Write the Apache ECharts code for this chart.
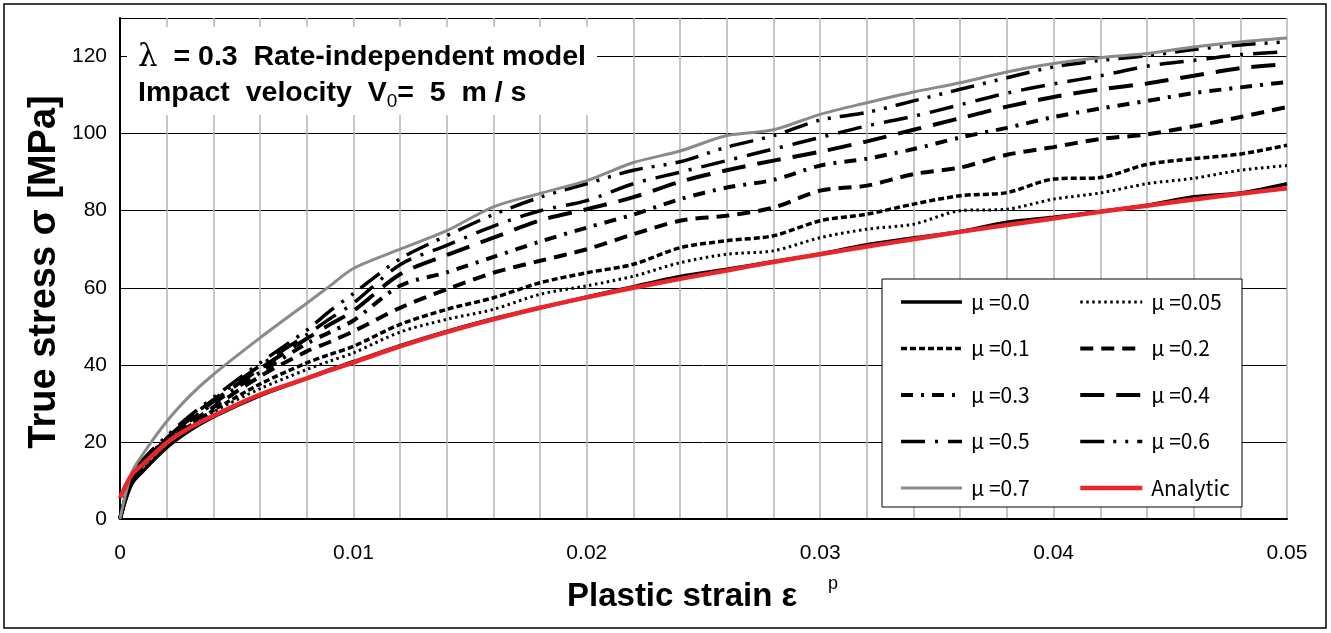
<!DOCTYPE html>
<html>
<head>
<meta charset="utf-8">
<script src="https://cdn.jsdelivr.net/npm/echarts@6/dist/echarts.min.js"></script>
<style>
  html, body { margin: 0; padding: 0; background: #fff; }
  #main { width: 1331px; height: 633px; }
</style>
</head>
<body>
<div id="main"></div>
<script>
// 横軸: 塑性ひずみ
var strain = [0, 0.0005, 0.001, 0.002, 0.003, 0.004, 0.006, 0.008, 0.009, 0.010,
  0.012, 0.014, 0.016, 0.018, 0.020, 0.022, 0.024, 0.026, 0.028, 0.030,
  0.032, 0.034, 0.036, 0.038, 0.040, 0.042, 0.044, 0.046, 0.048, 0.050];

// 真応力 [MPa]
var mu00 = [0, 9, 12.5, 18.5, 23, 26.5, 32, 36.5, 38.8, 40.8, 45, 48.7, 52, 54.8, 57.6, 60.3, 62.9, 64.8, 66.8, 68.8, 71.2, 72.9, 74.6, 77, 78.3, 79.8, 81.4, 83.6, 84.6, 87];
var mu005 = [0, 10, 13.5, 19.5, 24, 27.8, 33.8, 38.8, 41, 43.1, 48.5, 51.8, 54.4, 58.3, 60.5, 63, 66.5, 68.7, 69.6, 73, 75.2, 76.5, 80, 80.4, 83, 84.6, 87, 88.4, 90.5, 91.7];
var mu01 = [0, 10, 14, 19.8, 24.3, 28.2, 35, 40.5, 42.7, 44.8, 50.5, 54.4, 57.4, 61.3, 63.9, 66.1, 70.4, 72.2, 73.5, 77.4, 79.1, 81.7, 83.9, 84.7, 88.2, 88.6, 92, 93.5, 94.7, 97];
var mu02 = [0, 10, 14, 20, 24.8, 29, 37, 43.5, 46, 48.7, 54.8, 59.6, 63.9, 67, 70, 73.9, 77.4, 78.7, 80.8, 85.2, 86.5, 89.5, 91.2, 94.5, 96.5, 98.6, 99.8, 101.9, 104.3, 106.9];
var mu03 = [0, 10.5, 14.5, 20.5, 25.5, 30, 38, 45.5, 48.5, 51.5, 60.5, 64, 68, 72, 75.6, 79, 83, 86, 88, 91.7, 93.5, 96, 99, 101.5, 104.3, 106.5, 108.5, 110.5, 112, 113.4];
var mu04 = [0, 10.5, 14.5, 20.8, 26, 30.5, 39, 46.8, 50.5, 54, 63.5, 68.5, 73, 77.5, 80.4, 83.5, 87.5, 90.5, 93, 95.3, 98, 101, 104, 107, 109.5, 111.5, 113, 115, 117, 118];
var mu05 = [0, 11, 15, 21, 26.3, 31, 39.8, 47.8, 52, 56, 66, 71, 76, 80, 82.6, 87, 90, 93, 96, 99, 102, 104.5, 107.5, 110.5, 112.9, 115, 117.5, 119, 120.5, 121.2];
var mu06 = [0, 11, 15.5, 21.5, 26.8, 31.5, 40.5, 49, 54, 58.5, 67.5, 73.5, 79, 83.5, 87, 90.5, 92.7, 96.5, 99.5, 103.5, 105.5, 108.5, 111.5, 114.5, 117.3, 119, 120.2, 121.8, 123, 123.8];
var mu07 = [0, 12, 17, 25.3, 32, 37.5, 47, 56, 60.5, 65, 70, 74.8, 81, 84.5, 87.8, 92.5, 95.5, 99.5, 101, 105, 108, 110.8, 113.2, 116, 118.2, 119.7, 120.8, 122.5, 123.8, 124.8];
var analytic = [5.5, 11.5, 14.3, 19.8, 23.7, 26.8, 32.3, 36.5, 38.6, 40.6, 44.8, 48.5, 51.8, 54.8, 57.5, 60, 62.3, 64.5, 66.7, 68.7, 70.7, 72.6, 74.5, 76.3, 78, 79.7, 81.3, 82.9, 84.4, 85.8];

var stressTicks = [0, 20, 40, 60, 80, 100, 120];

function pairs(vals) {
  return strain.map(function (e, i) { return [e, vals[i]]; });
}

function curve(name, vals, color, width, dash) {
  return {
    name: name,
    type: 'line',
    data: pairs(vals),
    symbol: 'none',
    smooth: 0.3,
    lineStyle: { color: color, width: width, type: dash, cap: 'butt' },
    itemStyle: { color: color }
  };
}

var myChart = echarts.init(document.getElementById('main'));

var tickFont = "'Liberation Sans Narrow', 'Liberation Sans', sans-serif";

var legendCommon = {
  orient: 'vertical',
  top: 291.5,
  itemHeight: 14,
  itemGap: 25.5,
  padding: 0,
  selectedMode: false,
  z: 10,
  // 凡例は線だけ表示（記号を消す）
  itemStyle: { color: 'rgba(0,0,0,0)', borderWidth: 0, opacity: 0 },
  lineStyle: { width: 'inherit' },
  textStyle: { fontFamily: 'Noto Sans CJK JP', fontSize: 21, color: '#000', padding: [0, 0, 0, 4] }
};

var option = {
  animation: false,
  backgroundColor: '#fff',
  grid: { left: 120, right: 44, top: 18, bottom: 114 },
  legend: [
    Object.assign({}, legendCommon, {
      left: 899, itemWidth: 61,
      data: ['μ =0.0', 'μ =0.1', 'μ =0.3', 'μ =0.5', 'μ =0.7']
    }),
    Object.assign({}, legendCommon, {
      left: 1078, itemWidth: 62,
      data: ['μ =0.05', 'μ =0.2', 'μ =0.4', 'μ =0.6', 'Analytic']
    })
  ],
  xAxis: {
    type: 'value',
    min: 0, max: 0.05, interval: 0.01,
    axisLine: { lineStyle: { color: '#000', width: 2 } },
    axisTick: { show: false },
    axisLabel: {
      margin: 24, fontSize: 21, color: '#000', fontFamily: tickFont,
      formatter: function (v) { return v === 0 ? '0' : v.toFixed(2); }
    },
    splitLine: { show: true, lineStyle: { color: '#b4b4b4', width: 1.5 } },
    minorTick: { show: false, splitNumber: 5 },
    minorSplitLine: { show: true, lineStyle: { color: '#b4b4b4', width: 1.5 } }
  },
  yAxis: {
    type: 'value',
    min: 0, max: 130, interval: 20,
    axisLine: { show: true, lineStyle: { color: '#000', width: 2 } },
    axisTick: { show: false },
    axisLabel: {
      margin: 13, fontSize: 21, color: '#000', fontFamily: tickFont,
      showMaxLabel: false,
      formatter: function (v) { return stressTicks.indexOf(v) >= 0 ? String(v) : ''; }
    },
    splitLine: { show: true, lineStyle: { color: '#000', width: 1 } }
  },
  series: [
    curve('μ =0.0', mu00, '#000', 3.5, 'solid'),
    curve('μ =0.05', mu005, '#000', 3, [2.5, 3.5]),
    curve('μ =0.1', mu01, '#000', 3.5, [6, 3]),
    curve('μ =0.2', mu02, '#000', 4, [13, 8]),
    curve('μ =0.3', mu03, '#000', 4, [12, 8, 3, 8]),
    curve('μ =0.4', mu04, '#000', 4, [24, 12]),
    curve('μ =0.5', mu05, '#000', 3.5, [24, 10, 3, 10]),
    curve('μ =0.6', mu06, '#000', 3.5, [24, 9, 3, 9, 3, 9]),
    curve('μ =0.7', mu07, '#8a8a8a', 3, 'solid'),
    curve('Analytic', analytic, '#e8262c', 4.5, 'solid')
  ],
  graphic: [
    { type: 'rect', z: 1, shape: { x: 4, y: 4, width: 1322, height: 624 },
      style: { fill: 'none', stroke: '#000', lineWidth: 1.5 } },
    { type: 'rect', z: 3, shape: { x: 127, y: 27, width: 470, height: 88 },
      style: { fill: '#fff' } },
    { type: 'rect', z: 3, shape: { x: 882, y: 279, width: 360, height: 228 },
      style: { fill: '#fff', stroke: '#000', lineWidth: 1 } },
    { type: 'text', z: 6, left: 138, top: 42,
      style: {
        text: '{l|λ}{b|  = 0.3  Rate-independent model}',
        rich: {
          l: { fontFamily: 'DejaVu Serif', fontSize: 31, fill: '#000' },
          b: { fontFamily: 'Liberation Sans', fontWeight: 'bold', fontSize: 28.5, fill: '#000' }
        }
      } },
    { type: 'text', z: 6, left: 138, top: 79,
      style: {
        text: '{b|Impact  velocity  V}{s|0}{b|=  5  m / s}',
        rich: {
          b: { fontFamily: 'Liberation Sans', fontWeight: 'bold', fontSize: 28.5, fill: '#000' },
          s: { fontFamily: 'Liberation Sans', fontSize: 19, fill: '#000', padding: [17, 0, 0, 0] }
        }
      } },
    { type: 'text', z: 6, x: 45, y: 272, rotation: Math.PI / 2,
      style: {
        text: 'True stress σ [MPa]',
        fontFamily: 'Liberation Sans', fontWeight: 'bold', fontSize: 38, fill: '#000',
        align: 'center', verticalAlign: 'middle'
      } },
    { type: 'text', z: 6, x: 567, y: 597,
      style: {
        text: 'Plastic strain ε',
        fontFamily: 'Liberation Sans', fontWeight: 'bold', fontSize: 33, fill: '#000',
        align: 'left', verticalAlign: 'middle'
      } },
    { type: 'text', z: 6, x: 828, y: 584,
      style: {
        text: 'p',
        fontFamily: 'Liberation Sans', fontSize: 18, fill: '#000',
        align: 'left', verticalAlign: 'middle'
      } }
  ]
};

myChart.setOption(option);
</script>
</body>
</html>
